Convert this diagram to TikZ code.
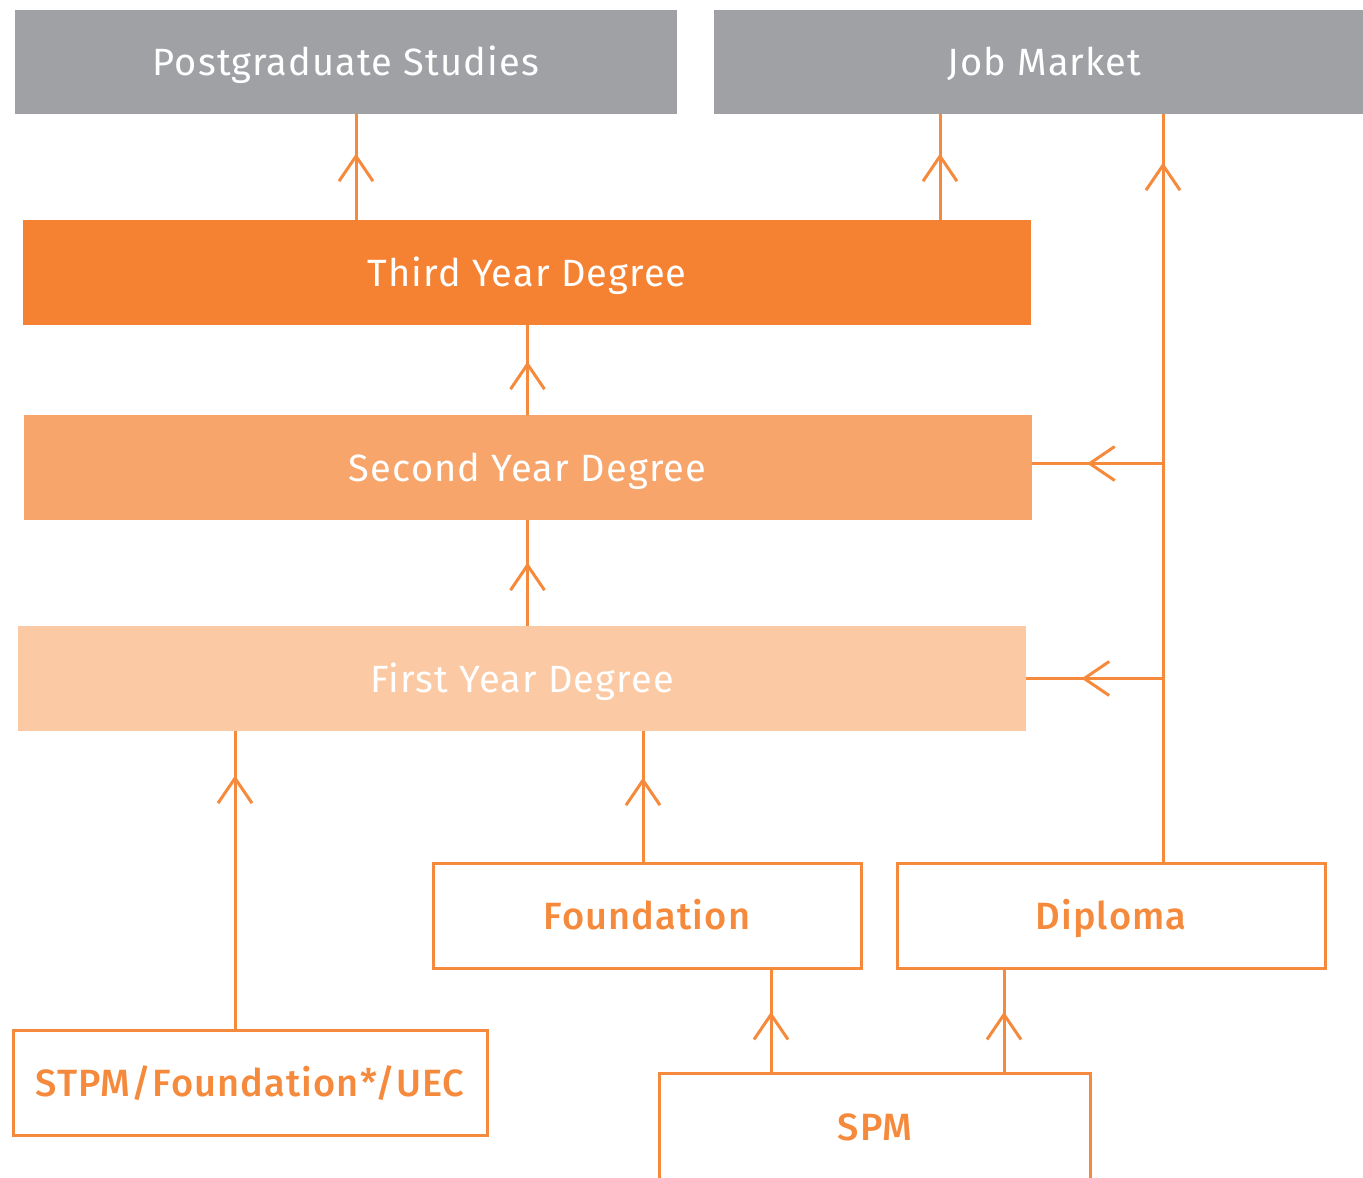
\documentclass[tikz,border=0pt]{standalone}
\usepackage{fontspec}
\setmainfont{Fira Sans}[LetterSpace=3]
\newfontfamily\medfont{Fira Sans Medium}[LetterSpace=3]
\usetikzlibrary{decorations.markings}
\definecolor{pggrey}{HTML}{A0A1A5}
\definecolor{yrthree}{HTML}{F58233}
\definecolor{yrtwo}{HTML}{F7A56B}
\definecolor{yrone}{HTML}{FBC9A3}
\definecolor{lineor}{HTML}{F58A3C}
\tikzset{flow/.style={draw=lineor,line width=3pt,postaction={decorate},
		decoration={markings,mark=at position -#1 with {\draw[lineor,line width=3pt] (-25pt,17pt) -- (0pt,0pt) -- (-25pt,-17pt);}}},
	flow/.default=45pt}
\begin{document}
\begin{tikzpicture}[x=1pt,y=-1pt]
	\tikzstyle{every node}=[shape=rectangle,inner sep=0pt,minimum height=105pt,text height=27pt,text depth=0pt,font=\fontsize{38}{44}\selectfont];
	\tikzstyle{grey box}=[fill=pggrey,text=white,minimum height=104pt];
	\tikzstyle{year box}=[text=white,minimum width=1008pt];
	\tikzstyle{entry box}=[draw=lineor,line width=3pt,text=lineor,minimum width=428pt,font=\fontsize{38}{44}\medfont];

	\useasboundingbox (0,0) rectangle (1363,1178);

	\node at (346, 62)    (pg) [grey box,minimum width=662pt] {Postgraduate Studies};
	\node at (1038.5, 62) (job) [grey box,minimum width=649pt] {\hspace{12pt}Job Market};
	\node at (527, 272.5) (third) [year box,fill=yrthree] {Third Year Degree};
	\node at (527.5, 467.5) (second) [year box,fill=yrtwo] {Second Year Degree};
	\node at (522, 678.5) (first) [year box,fill=yrone] {First Year Degree};
	\node at (647, 915.5) (found) [entry box] {Foundation};
	\node at (1111, 915.5) (dipl) [entry box] {Diploma};
	\node at (250, 1082.5) (stpm) [entry box,minimum width=474pt] {STPM/Foundation*/UEC};
	\node at (875, 1127) (spm) [entry box,draw=none,minimum height=104pt] {SPM};
	\draw[lineor,line width=3pt] (spm.south west) |- (spm.north) -| (spm.south east);

	\coordinate (xpg) at (356, 0);
	\coordinate (xjob) at (940, 0);
	\coordinate (xdip) at (1163, 0);
	\coordinate (xstpm) at (235, 0);
	\coordinate (xfound) at (643, 0);
	\coordinate (xspma) at (771, 0);
	\coordinate (xspmb) at (1004, 0);

	\draw[flow=42pt] (third.north -| xpg) -- (pg.south -| xpg);
	\draw[flow=42pt] (third.north -| xjob) -- (job.south -| xjob);
	\draw[flow=51pt] (dipl.north -| xdip) -- (job.south -| xdip);
	\draw[flow=39pt] (second.north) -- (third.south -| second.north);
	\draw[flow] (first.north -| second.north) -- (second.south);
	\draw[flow=58pt] ([yshift=4pt]second.east -| xdip) -- ([yshift=4pt]second.east);
	\draw[flow=58pt] (first.east -| xdip) -- (first.east);
	\draw[flow=47pt] (stpm.north -| xstpm) -- (first.south -| xstpm);
	\draw[flow=49pt] (found.north -| xfound) -- (first.south -| xfound);
	\draw[flow] (spm.north -| xspma) -- (found.south -| xspma);
	\draw[flow] (spm.north -| xspmb) -- (dipl.south -| xspmb);
\end{tikzpicture}
\end{document}
